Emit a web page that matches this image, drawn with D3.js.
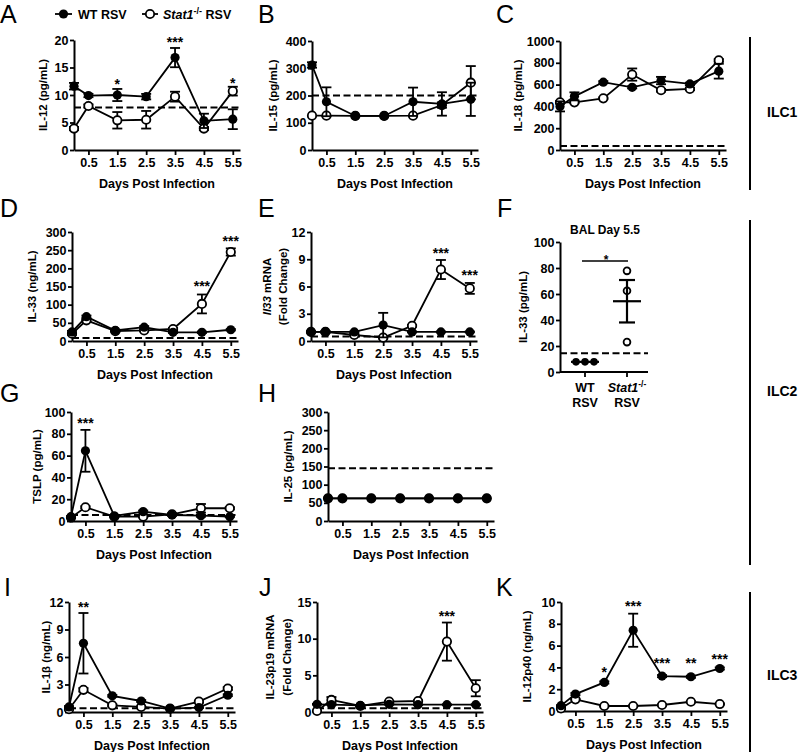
<!DOCTYPE html>
<html><head><meta charset="utf-8">
<script src="https://cdn.jsdelivr.net/npm/d3@7"></script>
<style>body{margin:0;background:#fff}</style>
</head><body>
<svg id="c" width="800" height="752"></svg>
<script>
// ---------------- DATA ----------------
const days = [0, 0.5, 1.5, 2.5, 3.5, 4.5, 5.5];
const xTicks = [0.5, 1.5, 2.5, 3.5, 4.5, 5.5];
const seriesNames = ["WT RSV", "Stat1-/- RSV"];

// A  IL-12 (pg/mL)
const il12_wt = [11.6, 9.9, 10.0, 9.7, 16.8, 5.3, 5.6];
const il12_wt_sem = [0.6, 0.3, 1.1, 0.5, 1.75, 1.3, 1.8];
const il12_ko = [3.9, 8.0, 5.4, 5.5, 9.7, 3.9, 10.7];
const il12_ko_sem = [0.3, 0.3, 1.5, 1.6, 0.9, 0.3, 0.8];
const il12_lod = 7.75;
const il12_yTicks = [0, 5, 10, 15, 20];
const il12_stars = [[1.5, "*", 12.5], [3.5, "***", 20.1], [5.5, "*", 12.7]];

// B  IL-15 (pg/mL)
const il15_wt = [312, 177, 125, 125, 177, 169, 186];
const il15_wt_sem = [10, 53, 0, 0, 52, 43, 61];
const il15_ko = [126, 126, 125, 125, 126, 165, 247];
const il15_ko_sem = [0, 0, 0, 0, 0, 10, 61];
const il15_lod = 200;
const il15_yTicks = [0, 100, 200, 300, 400];

// C  IL-18 (pg/mL)
const il18_wt = [400, 492, 622, 575, 637, 606, 723];
const il18_wt_sem = [46, 37, 10, 10, 34, 12, 68];
const il18_ko = [437, 437, 474, 692, 548, 560, 822];
const il18_ko_sem = [10, 8, 8, 56, 12, 10, 12];
const il18_lod = 37;
const il18_yTicks = [0, 200, 400, 600, 800, 1000];

// D  IL-33 (ng/mL)
const il33_wt = [25, 67, 29, 38, 24, 24, 31];
const il33_wt_sem = [3, 3, 2, 3, 2, 2, 2];
const il33_ko = [20, 57, 27, 29, 33, 102, 245];
const il33_ko_sem = [3, 3, 2, 2, 3, 26, 10];
const il33_lod = 8;
const il33_yTicks = [0, 50, 100, 150, 200, 250, 300];
const il33_stars = [[4.5, "***", 159], [5.5, "***", 283]];

// E  Il33 mRNA (fold change)
const il33m_wt = [1.0, 1.0, 1.0, 1.75, 1.0, 1.0, 1.0];
const il33m_wt_sem = [0.05, 0.05, 0.05, 1.35, 0.05, 0.05, 0.05];
const il33m_ko = [1.0, 1.0, 0.66, 0.37, 1.68, 7.87, 5.79];
const il33m_ko_sem = [0.05, 0.1, 0.1, 0.1, 0.1, 1.05, 0.6];
const il33m_lod = 0.5;
const il33m_yTicks = [0, 3, 6, 9, 12];
const il33m_stars = [[4.5, "***", 10.0], [5.5, "***", 7.6]];

// F  BAL day 5.5 IL-33 (pg/mL)
const bal_groups = ["WT", "Stat1"];
const bal_wt = [7.8, 7.8, 7.8];
const bal_ko = [77.8, 62.5, 23.0];
const bal_lod = 14.5;
const bal_yTicks = [0, 20, 40, 60, 80, 100];

// G  TSLP (pg/mL)
const tslp_wt = [4.0, 64.4, 4.6, 8.6, 5.5, 4.9, 4.0];
const tslp_wt_sem = [0.5, 19.2, 0.5, 1, 0.5, 1, 0.5];
const tslp_ko = [3.1, 12.6, 4.0, 4.0, 6.1, 11.7, 11.7];
const tslp_ko_sem = [0.3, 1, 0.5, 0.5, 1, 3.9, 1];
const tslp_lod = 5.5;
const tslp_yTicks = [0, 20, 40, 60, 80, 100];
const tslp_stars = [[0.5, "***", 92.7]];

// H  IL-25 (pg/mL)
const il25_wt = [62.5, 62.5, 62.5, 62.5, 62.5, 62.5, 62.5];
const il25_wt_sem = [0, 0, 0, 0, 0, 0, 0];
const il25_ko = [62.5, 62.5, 62.5, 62.5, 62.5, 62.5, 62.5];
const il25_ko_sem = [0, 0, 0, 0, 0, 0, 0];
const il25_lod = 145;
const il25_yTicks = [0, 50, 100, 150, 200, 250, 300];

// I  IL-1β (ng/mL)
const il1b_wt = [0.55, 7.5, 1.76, 1.2, 0.37, 0.48, 1.83];
const il1b_wt_sem = [0.1, 3.3, 0.1, 0.1, 0.05, 0.05, 0.1];
const il1b_ko = [0.3, 2.42, 0.73, 0.55, 0.37, 1.13, 2.56];
const il1b_ko_sem = [0.05, 0.2, 0.1, 0.05, 0.05, 0.1, 0.15];
const il1b_lod = 0.4;
const il1b_yTicks = [0, 3, 6, 9, 12];
const il1b_stars = [[0.5, "**", 11.75]];

// J  IL-23p19 mRNA (fold change)
const il23_wt = [1.05, 1.0, 0.9, 1.05, 1.0, 1.0, 1.0];
const il23_wt_sem = [0.05, 0.05, 0.05, 0.05, 0.05, 0.05, 0.05];
const il23_ko = [0.14, 1.64, 0.82, 1.42, 1.5, 9.6, 3.24];
const il23_ko_sem = [0.05, 0.4, 0.1, 0.1, 0.1, 2.6, 1.1];
const il23_lod = 0.5;
const il23_yTicks = [0, 5, 10, 15];
const il23_stars = [[4.5, "***", 13.55]];

// K  IL-12p40 (ng/mL)
const p40_wt = [0.49, 1.55, 2.62, 7.41, 3.2, 3.14, 3.9];
const p40_wt_sem = [0.05, 0.1, 0.1, 1.52, 0.1, 0.1, 0.1];
const p40_ko = [0.24, 1.07, 0.46, 0.46, 0.55, 0.85, 0.64];
const p40_ko_sem = [0.05, 0.05, 0.05, 0.05, 0.05, 0.05, 0.05];
const p40_yTicks = [0, 2, 4, 6, 8, 10];
const p40_stars = [[1.5, "*", 3.83], [2.5, "***", 9.88], [3.5, "***", 4.68], [4.5, "**", 4.68], [5.5, "***", 5.05]];

// ---------------- LAYOUT ----------------
const FONT = "'Liberation Sans', Arial, Helvetica, sans-serif";
const svg = d3.select("#c").attr("font-family", FONT);
svg.append("rect").attr("width", 800).attr("height", 752).attr("fill", "#fff");
const X_SPAN = 166;
const TICK_FS = 12.5, TITLE_FS = 12.5, STAR_FS = 14;

const timePanels = [
  {L: {left: 74, top: 40, bottom: 150, tx: [43]}, title: [[["IL-12 (pg/mL)", 0]]], wt: il12_wt, wts: il12_wt_sem, ko: il12_ko, kos: il12_ko_sem, lod: il12_lod, ticks: il12_yTicks, stars: il12_stars},
  {L: {left: 312, top: 41, bottom: 150, tx: [273]}, title: [[["IL-15 (pg/mL)", 0]]], wt: il15_wt, wts: il15_wt_sem, ko: il15_ko, kos: il15_ko_sem, lod: il15_lod, ticks: il15_yTicks, stars: []},
  {L: {left: 560, top: 41, bottom: 150, tx: [518]}, title: [[["IL-18 (pg/mL)", 0]]], wt: il18_wt, wts: il18_wt_sem, ko: il18_ko, kos: il18_ko_sem, lod: il18_lod, ticks: il18_yTicks, stars: []},
  {L: {left: 72, top: 232, bottom: 341, tx: [32]}, title: [[["IL-33 (ng/mL)", 0]]], wt: il33_wt, wts: il33_wt_sem, ko: il33_ko, kos: il33_ko_sem, lod: il33_lod, ticks: il33_yTicks, stars: il33_stars},
  {L: {left: 311, top: 232, bottom: 341, tx: [267, 283]}, title: [[["Il33", 1], [" mRNA", 0]], [["(Fold Change)", 0]]], wt: il33m_wt, wts: il33m_wt_sem, ko: il33m_ko, kos: il33m_ko_sem, lod: il33m_lod, ticks: il33m_yTicks, stars: il33m_stars},
  {L: {left: 71, top: 412, bottom: 521, tx: [37]}, title: [[["TSLP (pg/mL)", 0]]], wt: tslp_wt, wts: tslp_wt_sem, ko: tslp_ko, kos: tslp_ko_sem, lod: tslp_lod, ticks: tslp_yTicks, stars: tslp_stars},
  {L: {left: 328, top: 412, bottom: 521, tx: [288]}, title: [[["IL-25 (pg/mL)", 0]]], wt: il25_wt, wts: il25_wt_sem, ko: il25_ko, kos: il25_ko_sem, lod: il25_lod, ticks: il25_yTicks, stars: []},
  {L: {left: 69, top: 602, bottom: 712, tx: [46]}, title: [[["IL-1β (ng/mL)", 0]]], wt: il1b_wt, wts: il1b_wt_sem, ko: il1b_ko, kos: il1b_ko_sem, lod: il1b_lod, ticks: il1b_yTicks, stars: il1b_stars},
  {L: {left: 317, top: 602, bottom: 712, tx: [270, 287]}, title: [[["IL-23p19 mRNA", 0]], [["(Fold Change)", 0]]], wt: il23_wt, wts: il23_wt_sem, ko: il23_ko, kos: il23_ko_sem, lod: il23_lod, ticks: il23_yTicks, stars: il23_stars},
  {L: {left: 561, top: 602, bottom: 711, tx: [527]}, title: [[["IL-12p40 (ng/mL)", 0]]], wt: p40_wt, wts: p40_wt_sem, ko: p40_ko, kos: p40_ko_sem, lod: null, ticks: p40_yTicks, stars: p40_stars}
];

function styleAxis(sel) {
  sel.select(".domain").attr("stroke", "#000").attr("stroke-width", 2);
  sel.selectAll(".tick line").attr("stroke", "#000").attr("stroke-width", 1.8);
  sel.selectAll(".tick text").attr("fill", "#000").attr("font-size", TICK_FS)
    .attr("font-weight", "bold").attr("font-family", FONT);
}

function yTitle(g, lines, xs, yc) {
  lines.forEach((segs, i) => {
    const t = g.append("text")
      .attr("transform", `translate(${xs[i]},${yc}) rotate(-90)`)
      .attr("text-anchor", "middle").attr("dy", "0.36em")
      .attr("font-size", 11.5).attr("font-weight", "bold");
    segs.forEach(s => t.append("tspan").attr("font-style", s[1] ? "italic" : "normal").text(s[0]));
  });
}

function lodLine(g, x1, x2, yv) {
  g.append("line").attr("x1", x1).attr("x2", x2).attr("y1", yv).attr("y2", yv)
    .attr("stroke", "#000").attr("stroke-width", 2).attr("stroke-dasharray", "7,3.5");
}

function drawSeries(g, x, y, vals, sems, filled) {
  const pts = days.map((d, i) => ({d, v: vals[i], s: sems[i]}));
  g.append("path").datum(pts)
    .attr("d", d3.line().x(p => x(p.d)).y(p => y(p.v)))
    .attr("fill", "none").attr("stroke", "#000").attr("stroke-width", 1.8);
  const eb = g.append("g").attr("stroke", "#000").attr("stroke-width", 1.8);
  pts.filter(p => p.s > 0).forEach(p => {
    eb.append("line").attr("x1", x(p.d)).attr("x2", x(p.d)).attr("y1", y(p.v - p.s)).attr("y2", y(p.v + p.s));
    [p.v - p.s, p.v + p.s].forEach(e =>
      eb.append("line").attr("x1", x(p.d) - 5).attr("x2", x(p.d) + 5).attr("y1", y(e)).attr("y2", y(e)));
  });
  g.append("g").selectAll("circle").data(pts).join("circle")
    .attr("cx", p => x(p.d)).attr("cy", p => y(p.v))
    .attr("r", filled ? 4.6 : 4.2)
    .attr("fill", filled ? "#000" : "#fff")
    .attr("stroke", "#000").attr("stroke-width", filled ? 0 : 1.8);
}

function timePanel(P) {
  const L = P.L;
  const g = svg.append("g");
  const x = d3.scaleLinear().domain([0, 5.75]).range([L.left, L.left + X_SPAN]);
  const yMax = P.ticks[P.ticks.length - 1];
  const y = d3.scaleLinear().domain([0, yMax]).range([L.bottom, L.top]);
  if (P.lod != null) lodLine(g, x(0), x(5.75), y(P.lod));
  g.append("g").attr("transform", `translate(0,${L.bottom})`)
    .call(d3.axisBottom(x).tickValues(xTicks).tickFormat(d3.format(".1f")).tickSize(5).tickSizeOuter(0).tickPadding(3))
    .call(styleAxis);
  g.append("g").attr("transform", `translate(${L.left},0)`)
    .call(d3.axisLeft(y).tickValues(P.ticks).tickFormat(d3.format("d")).tickSize(4).tickSizeOuter(0).tickPadding(1.5))
    .call(styleAxis);
  drawSeries(g, x, y, P.ko, P.kos, false);
  drawSeries(g, x, y, P.wt, P.wts, true);
  P.stars.forEach(s => g.append("text").attr("x", x(s[0])).attr("y", y(s[2]) + 8)
    .attr("text-anchor", "middle").attr("font-size", STAR_FS).attr("font-weight", "bold").text(s[1]));
  g.append("text").attr("x", L.left + X_SPAN / 2).attr("y", L.bottom + 37.5)
    .attr("text-anchor", "middle").attr("font-size", TITLE_FS).attr("font-weight", "bold").text("Days Post Infection");
  yTitle(g, P.title, L.tx, (L.top + L.bottom) / 2);
}
timePanels.forEach(timePanel);

// ---------- Panel F ----------
(function () {
  const L = {left: 560, right: 648, top: 242, bottom: 372, tx: [523]};
  const g = svg.append("g");
  const x = d3.scalePoint().domain(bal_groups).range([585, 627]);
  const y = d3.scaleLinear().domain([0, 100]).range([L.bottom, L.top]);
  lodLine(g, L.left, L.right, y(bal_lod));
  g.append("path").attr("d", `M${L.left},${L.bottom}H${L.right}`).attr("stroke", "#000").attr("stroke-width", 2);
  bal_groups.forEach(k => g.append("line").attr("x1", x(k)).attr("x2", x(k)).attr("y1", L.bottom).attr("y2", L.bottom + 5)
    .attr("stroke", "#000").attr("stroke-width", 1.8));
  g.append("g").attr("transform", `translate(${L.left},0)`)
    .call(d3.axisLeft(y).tickValues(bal_yTicks).tickSize(4).tickSizeOuter(0).tickPadding(1.5))
    .call(styleAxis);
  const groups = [[bal_groups[0], bal_wt, true], [bal_groups[1], bal_ko, false]];
  groups.forEach(([k, vals, filled]) => {
    const counts = d3.rollup(vals, v => v.length, v => v);
    const seen = new Map();
    vals.forEach(v => {
      const n = counts.get(v), i = seen.get(v) || 0; seen.set(v, i + 1);
      const dx = (i - (n - 1) / 2) * 9;
      g.append("circle").attr("cx", x(k) + dx).attr("cy", y(v)).attr("r", filled ? 3.8 : 3.4)
        .attr("fill", filled ? "#000" : "#fff").attr("stroke", "#000").attr("stroke-width", filled ? 0 : 1.8);
    });
    const m = d3.mean(vals);
    const sem = (d3.deviation(vals) || 0) / Math.sqrt(vals.length);
    const gg = g.append("g").attr("stroke", "#000").attr("stroke-width", 2.2);
    gg.append("line").attr("x1", x(k) - 14).attr("x2", x(k) + 14).attr("y1", y(m)).attr("y2", y(m));
    if (sem > 0) {
      gg.append("line").attr("x1", x(k)).attr("x2", x(k)).attr("y1", y(m - sem)).attr("y2", y(m + sem));
      [m - sem, m + sem].forEach(e => gg.append("line").attr("x1", x(k) - 8).attr("x2", x(k) + 8).attr("y1", y(e)).attr("y2", y(e)));
    }
  });
  g.append("line").attr("x1", x(bal_groups[0]) - 3).attr("x2", x(bal_groups[1]) + 1).attr("y1", 261).attr("y2", 261)
    .attr("stroke", "#000").attr("stroke-width", 1.5);
  g.append("text").attr("x", (x(bal_groups[0]) + x(bal_groups[1])) / 2).attr("y", 263.5).attr("text-anchor", "middle")
    .attr("font-size", 12).attr("font-weight", "bold").text("*");
  g.append("text").attr("x", 605).attr("y", 233.5).attr("text-anchor", "middle")
    .attr("font-size", 12).attr("font-weight", "bold").text("BAL Day 5.5");
  const lab = (k, yy) => g.append("text").attr("x", x(k)).attr("y", yy).attr("text-anchor", "middle")
    .attr("font-size", TICK_FS).attr("font-weight", "bold");
  lab(bal_groups[0], 391.5).text("WT");
  lab(bal_groups[0], 406.5).text("RSV");
  const t = lab(bal_groups[1], 391.5);
  t.append("tspan").attr("font-style", "italic").text("Stat1");
  t.append("tspan").attr("font-size", 8.5).attr("dy", -5).text("-/-");
  lab(bal_groups[1], 406.5).text("RSV");
  yTitle(g, [[["IL-33 (pg/mL)", 0]]], L.tx, (L.top + L.bottom) / 2);
})();

// ---------- Panel letters ----------
const letters = [["A", 0, 23], ["B", 258, 23], ["C", 496, 23], ["D", 0, 217], ["E", 258, 217], ["F", 497, 217],
  ["G", 0, 402], ["H", 258, 402], ["I", 4, 596], ["J", 259, 596], ["K", 496, 596]];
letters.forEach(([t, lx, ly]) => svg.append("text").attr("x", lx).attr("y", ly).attr("font-size", 25).text(t));

// ---------- ILC groups ----------
const ilcLabels = ["ILC1", "ILC2", "ILC3"];
const ilcSpans = [[37, 190], [220, 565], [592, 752]];
ilcLabels.forEach((lbl, i) => {
  const [a, b] = ilcSpans[i];
  svg.append("line").attr("x1", 750).attr("x2", 750).attr("y1", a).attr("y2", b).attr("stroke", "#000").attr("stroke-width", 2);
  svg.append("text").attr("x", 767).attr("y", [112, 391, 675][i] + 5).attr("font-size", 14).attr("font-weight", "bold").text(lbl);
});

// ---------- Legend ----------
(function () {
  const g = svg.append("g");
  const items = [[55, 72, 78, true, seriesNames[0]], [142, 158, 163, false, seriesNames[1]]];
  items.forEach(([a, b, tx, filled, name]) => {
    g.append("line").attr("x1", a).attr("x2", b).attr("y1", 14).attr("y2", 14).attr("stroke", "#000").attr("stroke-width", 1.8);
    g.append("circle").attr("cx", (a + b) / 2).attr("cy", 14).attr("r", filled ? 4.6 : 4.2)
      .attr("fill", filled ? "#000" : "#fff").attr("stroke", "#000").attr("stroke-width", filled ? 0 : 1.8);
    const t = g.append("text").attr("x", tx).attr("y", 18.5).attr("font-size", 12.5).attr("font-weight", "bold");
    if (filled) t.text(name);
    else {
      t.append("tspan").attr("font-style", "italic").text("Stat1");
      t.append("tspan").attr("font-size", 9).attr("dy", -5).text("-/-");
      t.append("tspan").attr("dy", 5).text(" RSV");
    }
  });
})();
</script>
</body></html>
